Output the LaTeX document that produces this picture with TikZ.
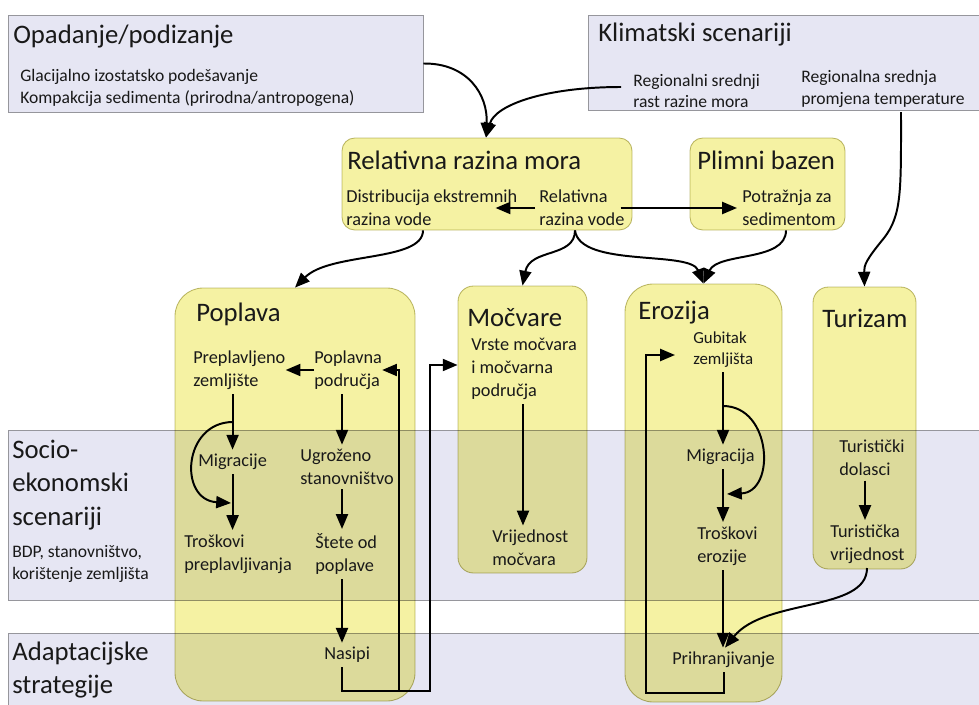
\documentclass[tikz,border=0pt]{standalone}
\usepackage{fontspec}
\setmainfont{Carlito}
\usepackage{xcolor}
\usetikzlibrary{arrows.meta, positioning, fit, calc}

\definecolor{bandfill}{RGB}{230,230,243}
\definecolor{bandline}{RGB}{150,150,156}
\definecolor{boxfill}{RGB}{245,242,163}
\definecolor{boxline}{RGB}{190,187,125}
\definecolor{ink}{RGB}{25,25,25}

\begin{document}
\begin{tikzpicture}[
    x=0.025cm, y=-0.025cm,
    band/.style={fill=bandfill, draw=bandline, line width=0.6pt},
    scenario/.style={band, inner sep=0pt},
    impact/.style={fill=boxfill, draw=boxline, line width=0.6pt, inner sep=0pt},
    headline/.style={anchor=west, inner sep=0pt, text=ink, align=left,
        font=\fontsize{19}{24}\selectfont},
    item/.style={anchor=west, inner xsep=0pt, inner ysep=3pt, text=ink, align=left,
        font=\fontsize{13}{16.5}\selectfont},
    note/.style={item, font=\fontsize{12.5}{15.5}\selectfont},
    rel/.style={-{Triangle[length=3.7mm, width=3mm]}, line width=1.4pt}
]
    \useasboundingbox (0,0) rectangle (979,704);

    \draw[band] (8,430) rectangle (990,600);
    \draw[band] (8,633) rectangle (990,712);
    \node[scenario, fit={(8,15) (423,112)}] (opad) {};
    \node[scenario, fit={(588,15) (990,110)}] (klima) {};

    \begin{scope}[blend mode=multiply]
        \node[impact, rounded corners=9pt, fit={(342,138) (632,230)}] (relmora) {};
        \node[impact, rounded corners=9pt, fit={(690,138) (845,230)}] (plimni) {};
        \node[impact, rounded corners=20pt, fit={(175,288) (415,701)}] (poplava) {};
        \node[impact, rounded corners=11pt, fit={(458,286) (587,573)}] (mocvare) {};
        \node[impact, rounded corners=20pt, fit={(625,284) (782,702)}] (erozija) {};
        \node[impact, rounded corners=11pt, fit={(813,287) (916,569)}] (turizam) {};
    \end{scope}

    \node[headline] (opadt) at (13,37) {Opadanje/podizanje};
    \node[note] (opadn) at (20,88) {Glacijalno izostatsko podešavanje\\Kompakcija sedimenta (prirodna/antropogena)};
    \node[headline] (klimat) at (598,35) {Klimatski scenariji};
    \node[note] (regmore) at (633,91) {Regionalni srednji\\rast razine mora};
    \node[note] (regtemp) at (801,89) {Regionalna srednja\\promjena temperature};

    \node[headline] (relmorat) at (347,160) {Relativna razina mora};
    \node[item] (distrib) at (346,208) {Distribucija ekstremnih\\razina vode};
    \node[item] (relvoda) at (539,208) {Relativna\\razina vode};
    \node[headline] (plimnit) at (697,160) {Plimni bazen};
    \node[item] (potrazn) at (742,208) {Potražnja za\\sedimentom};

    \node[headline] (poplavat) at (196,314) {Poplava};
    \node[item] (preplav) at (193,370) {Preplavljeno\\zemljište};
    \node[item] (poplavna) at (314,370) {Poplavna\\područja};
    \node[item] (migrP) at (198,462) {Migracije};
    \node[item] (ugrozeno) at (300,467) {Ugroženo\\stanovništvo};
    \node[item] (troskP) at (184,554) {Troškovi\\preplavljivanja};
    \node[item] (stete) at (315,554) {Štete od\\poplave};
    \node[item] (nasipi) at (324,655) {Nasipi};

    \node[headline] (mocvaret) at (467,318) {Močvare};
    \node[item] (vrste) at (471,369) {Vrste močvara\\i močvarna\\područja};
    \node[item] (vrijed) at (492,548) {Vrijednost\\močvara};

    \node[headline] (erozijat) at (638,313) {Erozija};
    \node[item, font=\fontsize{12}{15}\selectfont] (gubitak) at (693,350) {Gubitak\\zemljišta};
    \node[item] (migrE) at (686,457) {Migracija};
    \node[item] (troskE) at (697,546) {Troškovi\\erozije};
    \node[item] (prihran) at (672,660) {Prihranjivanje};

    \node[headline] (turizamt) at (822,318) {Turizam};
    \node[item] (dolasci) at (839,458) {Turistički\\dolasci};
    \node[item] (turvr) at (830,544) {Turistička\\vrijednost};

    \node[headline] (socio) at (12,485) {Socio-\\ekonomski\\scenariji};
    \node[note] (socion) at (12,564) {BDP, stanovništvo,\\korištenje zemljišta};
    \node[headline] (adapt) at (12,670) {Adaptacijske\\strategije};

    \coordinate (migloopA) at (233,422);
    \coordinate (migloopB) at (231,503);
    \coordinate (erloopA) at (723,406);
    \coordinate (erloopB) at (727,494);

    \draw[rel] (opad.east) .. controls (468,63) and (488,95) .. (relmora.north -| 486,0);
    \draw[rel] ($(regmore.west)+(-12,-4)$) .. controls (545,87) and (495,105) .. (relmora.north -| 486,0);
    \draw[rel] (regtemp.south -| 901,0) .. controls (901,190) and (902,215) .. (884,238)
        .. controls (866,260) and (864,265) .. (turizam.north);

    \draw[rel] ($(relvoda.west)+(-4,0)$) -- ($(distrib.east)+(-22,0)$);
    \draw[rel] ($(relvoda.east)+(-4,0)$) -- ($(potrazn.west)+(-5,0)$);
    \draw[rel] (relmora.south -| 423,0) .. controls (423,262) and (330,252) .. (poplava.north);
    \draw[rel] (relmora.south -| 575,0) .. controls (575,258) and (530,248) .. (mocvare.north);
    \draw[rel] (relmora.south -| 575,0) .. controls (580,268) and (690,250) .. (erozija.north);
    \draw[rel] (plimni.south -| 786,0) .. controls (786,262) and (718,252) .. (erozija.north);

    \draw[rel] (poplavna.west) -- (preplav.east);
    \draw[rel] (preplav.south -| migrP.north) -- (migrP.north);
    \draw[rel] (migrP.south) -- (migrP.south |- troskP.north);
    \draw[rel] (migloopA) .. controls (183,422) and (178,500) .. (migloopB);
    \draw[rel] (poplavna.south -| 342,0) -- (ugrozeno.north -| 342,0);
    \draw[rel] (ugrozeno.south -| 342,0) -- (stete.north -| 342,0);
    \draw[rel] (stete.south -| 342,0) -- (nasipi.north -| 342,0);
    \draw[rel] (nasipi.south -| 342,0) |- (399,691) |- (poplavna.east);
    \draw[rel] (nasipi.south -| 342,0) |- (430,691) |- (mocvare.west |- 0,365);

    \draw[rel] (vrste.south -| 523,0) -- (vrijed.north -| 523,0);

    \draw[rel] (gubitak.south -| 723,0) -- (migrE.north -| 723,0);
    \draw[rel] (migrE.south -| 723,0) -- (troskE.north -| 723,0);
    \draw[rel] (erloopA) .. controls (772,406) and (776,492) .. (erloopB);
    \draw[rel] (troskE.south -| 723,0) -- (prihran.north -| 723,0);
    \draw[rel] (prihran.south -| 724,0) |- (646,693) |- ($(gubitak.west)+(-18,5)$);

    \draw[rel] (dolasci.south -| 865,0) -- (turvr.north -| 865,0);
    \draw[rel] (turvr.south -| 867,0) .. controls (867,612) and (765,598) .. (prihran.north -| 725,0);
\end{tikzpicture}
\end{document}
